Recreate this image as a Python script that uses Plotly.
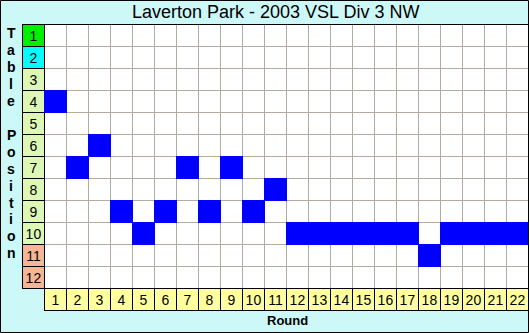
import plotly.graph_objects as go

# ---------------- data ----------------
rounds = list(range(1, 23))
positions = [4, 7, 6, 9, 10, 9, 7, 9, 7, 9, 8, 10, 10, 10, 10, 10, 10, 11, 10, 10, 10, 10]
table_positions = list(range(1, 13))
position_bands = [0, 1, 2, 2, 2, 2, 2, 2, 2, 2, 3, 3]   # colour class of each table position
round_labels = [str(r) for r in rounds]
position_labels = [str(p) for p in table_positions]
title_text = "Laverton Park - 2003 VSL Div 3 NW"
x_title = "Round"
y_title = "Table Position"

# ---------------- styling ----------------
W, H = 529, 333
ML, MR, MT, MB = 23, 0, 25, 22
PW, PH = W - ML - MR, H - MT - MB
FONT = "Liberation Sans, Arial, sans-serif"

BG = "#CCF8F8"
GRID = "#B4ACA0"
BLUE = "#0000FF"
BAND_COLORS = ["#00EE00", "#00FFFF", "#DDF7B4", "#F5B596"]
ROUND_FILL = "#FFFFA0"


def xp(px):
    return (px - ML) / PW


def yp(py):
    return 1 - (py - MT) / PH


n_r = len(rounds)
n_p = len(table_positions)
label_x = rounds[0] - 1            # column used for position labels
label_y = table_positions[-1] + 1  # row used for round labels
one_px = 1.0 / 22                  # one pixel in data units (cell pitch = 22 px)
inner = 1 - one_px                 # cell size without its border line

fig = go.Figure()

# white cells of the grid (gaps show the grey grid lines)
fig.add_trace(go.Heatmap(
    x=rounds, y=table_positions, z=[[0] * n_r for _ in table_positions],
    colorscale=[[0, "white"], [1, "white"]], zmin=0, zmax=1,
    showscale=False, xgap=1, ygap=1, hoverinfo="skip"))

label_font = dict(family=FONT, size=14, color="black")

# position label column
fig.add_trace(go.Bar(
    x=[label_x] * n_p, y=[inner] * n_p, base=[p - 0.5 for p in table_positions],
    width=[inner] * n_p, offset=-0.5,
    marker=dict(color=[BAND_COLORS[b] for b in position_bands], line=dict(width=0)),
    text=position_labels, textposition="inside", insidetextanchor="middle",
    textangle=0, constraintext="none", textfont=label_font, hoverinfo="skip"))

# round label row
fig.add_trace(go.Bar(
    x=rounds, y=[inner] * n_r, base=[label_y - 0.5] * n_r,
    width=[inner] * n_r, offset=-0.5,
    marker=dict(color=ROUND_FILL, line=dict(width=0)),
    text=round_labels, textposition="inside", insidetextanchor="middle",
    textangle=0, constraintext="none", textfont=label_font, hoverinfo="skip"))

# team position each round: blue block covering the cell and its border lines
fig.add_trace(go.Bar(
    x=rounds, y=[1 + one_px] * n_r, base=[p - 0.5 - one_px for p in positions],
    width=[1 + one_px] * n_r, offset=-0.5 - one_px,
    marker=dict(color=BLUE, line=dict(width=0)), hoverinfo="skip"))

shapes = [
    # grey grid background behind round cells
    dict(type="rect", xref="x", yref="y", layer="below",
         x0=rounds[0] - 0.5, x1=rounds[-1] + 0.5,
         y0=table_positions[0] - 0.5, y1=table_positions[-1] + 0.5,
         fillcolor=GRID, line=dict(width=0)),
    # black borders behind label column
    dict(type="rect", xref="x", yref="y", layer="below",
         x0=label_x - 0.5, x1=label_x + 0.5,
         y0=table_positions[0] - 0.5, y1=table_positions[-1] + 0.5,
         fillcolor="black", line=dict(width=0)),
    # black borders behind round label row
    dict(type="rect", xref="x", yref="y", layer="below",
         x0=rounds[0] - 0.5 - one_px, x1=rounds[-1] + 0.5,
         y0=label_y - 0.5 - one_px, y1=label_y + 0.5,
         fillcolor="black", line=dict(width=0)),
    # title underline / grid top
    dict(type="line", xref="paper", yref="paper",
         x0=xp(22), x1=xp(529), y0=yp(24.5), y1=yp(24.5),
         line=dict(color="black", width=1)),
    # left border of label column
    dict(type="line", xref="paper", yref="paper",
         x0=xp(22.5), x1=xp(22.5), y0=yp(24), y1=yp(289),
         line=dict(color="black", width=1)),
    # outer border
    dict(type="rect", xref="paper", yref="paper",
         x0=xp(0.5), x1=xp(528.5), y0=yp(332.5), y1=yp(0.5),
         line=dict(color="black", width=1), fillcolor="rgba(0,0,0,0)"),
]

annotations = [
    dict(text=title_text, xref="paper", yref="paper", x=xp(275), y=yp(12.5),
         xanchor="center", yanchor="middle", showarrow=False,
         font=dict(family=FONT, size=18, color="black")),
    dict(text="<b>%s</b>" % x_title, xref="paper", yref="paper", x=xp(287), y=yp(320.5),
         xanchor="center", yanchor="middle", showarrow=False,
         font=dict(family=FONT, size=13, color="black")),
]
for i, ch in enumerate(y_title):
    if ch.strip() == "":
        continue
    annotations.append(dict(text="<b>%s</b>" % ch, xref="paper", yref="paper",
                            x=xp(11), y=yp(33.5 + 16.9 * i),
                            xanchor="center", yanchor="middle", showarrow=False,
                            font=dict(family=FONT, size=14, color="black")))

fig.update_layout(
    width=W, height=H,
    margin=dict(l=ML, r=MR, t=MT, b=MB, pad=0),
    paper_bgcolor=BG, plot_bgcolor=BG,
    showlegend=False, barmode="overlay",
    xaxis=dict(range=[label_x - 0.5, rounds[-1] + 0.5], visible=False, fixedrange=True),
    yaxis=dict(range=[label_y + 0.5, table_positions[0] - 0.5], visible=False, fixedrange=True),
    shapes=shapes, annotations=annotations,
)

fig.write_html("out.html", config={"displayModeBar": False})
